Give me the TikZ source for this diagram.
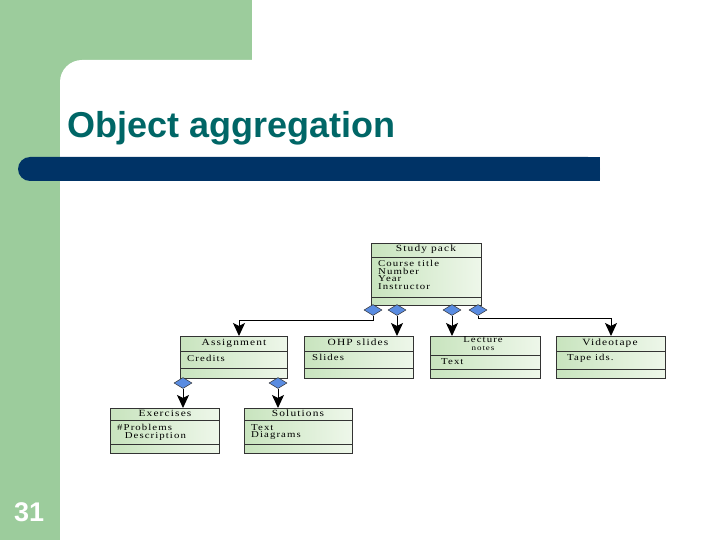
\documentclass[tikz,border=0pt]{standalone}
\usepackage{fontspec}
\setmainfont{Liberation Serif}
\newfontfamily\headfont{Liberation Sans}
\newfontfamily\umlfont[LetterSpace=12,FakeStretch=1.2]{Liberation Serif}
\usetikzlibrary{shapes.geometric,arrows.meta}
\definecolor{slidegreen}{RGB}{156,204,156}
\definecolor{barblue}{RGB}{0,51,102}
\definecolor{titleteal}{RGB}{0,102,102}
\definecolor{boxleft}{RGB}{200,228,190}
\definecolor{boxright}{RGB}{238,247,234}
\definecolor{diablue}{RGB}{90,140,225}
\tikzset{
  umlbox/.style={draw=black!80, line width=0.8pt, left color=boxleft, right color=boxright, anchor=north west, inner sep=0pt},
  umltitle/.style={font=\umlfont\fontsize{9.5}{8}\selectfont, inner sep=0pt, anchor=north, align=center},
  umlattr/.style={font=\umlfont\fontsize{9}{7.6}\selectfont, inner sep=0pt, anchor=north west, align=left},
  sep/.style={draw=black!80, line width=0.8pt},
  agg/.style={diamond, draw=black!80, fill=diablue, line width=0.5pt, minimum width=18pt, minimum height=11pt, inner sep=0pt},
  conn/.style={draw=black, line width=1pt, -{Stealth[length=13pt,width=12pt,inset=3pt]}}
}
\begin{document}
\begin{tikzpicture}[x=1pt,y=-1pt]
\useasboundingbox (0,0) rectangle (720,540);
% background slide
\fill[white] (0,0) rectangle (720,540);
\fill[slidegreen] (0,0) rectangle (252,60);
\fill[slidegreen] (0,0) rectangle (60,540);
\fill[slidegreen] (60,60) rectangle (90,90);
\fill[white, rounded corners=22pt] (60,60) rectangle (780,600);
\fill[white] (60,120) rectangle (720,540);
\fill[barblue, rounded corners=12pt] (18,157) rectangle (600,181);
\fill[barblue] (580,157) rectangle (600,181);
\node[anchor=base west, inner sep=0pt, text=titleteal, font=\headfont\bfseries\fontsize{36}{40}\selectfont] (title) at (67,138) {Object aggregation};
\node[anchor=base west, inner sep=0pt, text=white, font=\headfont\bfseries\fontsize{27}{30}\selectfont] (pnum) at (14,521) {31};

% Study pack
\node[umlbox, minimum width=110pt, minimum height=62pt] (sp) at (371,243) {};
\draw[sep] (371,257) -- (481,257);
\draw[sep] (371,297) -- (481,297);
\node[umltitle] (spt) at (426,245) {Study pack};
\node[umlattr] (spa) at (378,260) {Course title\\Number\\Year\\Instructor};

% Assignment
\node[umlbox, minimum width=107pt, minimum height=42pt] (as) at (180,336) {};
\draw[sep] (180,351) -- (287,351);
\draw[sep] (180,368) -- (287,368);
\node[umltitle] (ast) at (234,339) {Assignment};
\node[umlattr] (asa) at (187,355) {Credits};

% OHP slides
\node[umlbox, minimum width=109pt, minimum height=42pt] (ohp) at (304,336) {};
\draw[sep] (304,351) -- (413,351);
\draw[sep] (304,368) -- (413,368);
\node[umltitle] (ohpt) at (358,339) {OHP slides};
\node[umlattr] (ohpa) at (312,354) {Slides};

% Lecture notes
\node[umlbox, minimum width=110pt, minimum height=42pt] (ln) at (430,336) {};
\draw[sep] (430,355) -- (540,355);
\draw[sep] (430,369) -- (540,369);
\node[umltitle, font=\umlfont\fontsize{9}{7}\selectfont] (lnt) at (483,336.5) {Lecture};
\node[umltitle, font=\umlfont\fontsize{7.5}{7}\selectfont] (lnn) at (483,346) {notes};
\node[umlattr] (lna) at (441,358) {Text};

% Videotape
\node[umlbox, minimum width=109pt, minimum height=42pt] (vt) at (556,336) {};
\draw[sep] (556,351) -- (665,351);
\draw[sep] (556,369) -- (665,369);
\node[umltitle] (vtt) at (610,339) {Videotape};
\node[umlattr] (vta) at (567,354) {Tape ids.};

% Exercises
\node[umlbox, minimum width=109pt, minimum height=45pt] (ex) at (110,408) {};
\draw[sep] (110,420) -- (219,420);
\draw[sep] (110,444) -- (219,444);
\node[umltitle] (ext) at (165,410) {Exercises};
\node[umlattr] (exa) at (117,424) {\#Problems\\\ \ Description};

% Solutions
\node[umlbox, minimum width=108pt, minimum height=45pt] (so) at (244,408) {};
\draw[sep] (244,420) -- (352,420);
\draw[sep] (244,444) -- (352,444);
\node[umltitle] (sot) at (298,410) {Solutions};
\node[umlattr] (soa) at (251,424) {Text\\Diagrams};

% aggregation diamonds
\node[agg] (d1) at (373,310) {};
\node[agg] (d2) at (397,310) {};
\node[agg] (d3) at (452,310) {};
\node[agg] (d4) at (478,310) {};
\node[agg] (d5) at (183,383) {};
\node[agg] (d6) at (278,383) {};

\coordinate (c1) at (373,320);
\coordinate (c2) at (239,320);
\coordinate (c3) at (478,318);
\coordinate (c4) at (611,318);
\draw[conn] (d1.south) -- (c1) -- (c2) -- (c2 |- as.north);
\draw[conn] (d2.south) -- (d2.south |- ohp.north);
\draw[conn] (d3.south) -- (d3.south |- ln.north);
\draw[conn] (d4.south) -- (c3) -- (c4) -- (c4 |- vt.north);
\draw[conn] (d5.south) -- (d5.south |- ex.north);
\draw[conn] (d6.south) -- (d6.south |- so.north);
\end{tikzpicture}
\end{document}
